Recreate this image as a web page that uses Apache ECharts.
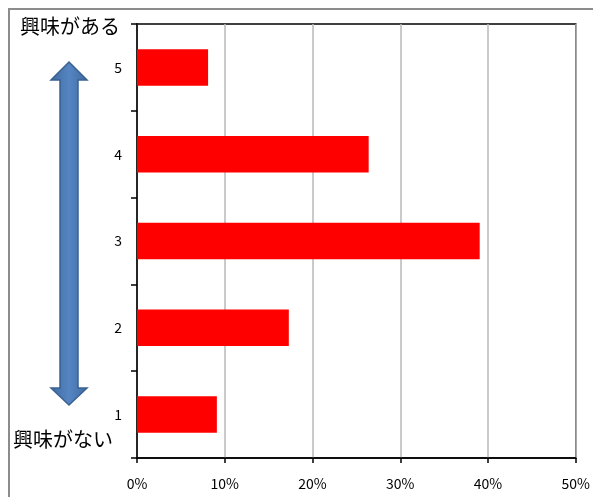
<!DOCTYPE html>
<html><head><meta charset="utf-8">
<script src="https://cdn.jsdelivr.net/npm/echarts@6/dist/echarts.min.js"></script>
<style>html,body{margin:0;padding:0;background:#fff}#c{width:593px;height:497px}</style>
</head><body><div id="c"></div>
<script>
const categories = ['1', '2', '3', '4', '5'];
const values = [0.091, 0.173, 0.3905, 0.264, 0.081];
const xTicks = [0, 0.1, 0.2, 0.3, 0.4, 0.5];
const topLabel = '興味がある';
const bottomLabel = '興味がない';

const chart = echarts.init(document.getElementById('c'), null, {renderer: 'canvas'});
const jp = '"Noto Sans CJK JP", sans-serif';
chart.setOption({
  animation: false,
  backgroundColor: '#fff',
  grid: {left: 137, right: 13, top: 24, bottom: 39, show: true, borderColor: '#000', borderWidth: 1.5, backgroundColor: 'transparent'},
  xAxis: {
    type: 'value', min: xTicks[0], max: xTicks[xTicks.length - 1], interval: 0.1,
    axisLine: {show: true, lineStyle: {color: '#000', width: 1.5}},
    axisTick: {show: true, length: 5, lineStyle: {color: '#000', width: 1.5}},
    splitLine: {show: true, lineStyle: {color: '#b8b8b8', width: 1.5}},
    axisLabel: {margin: 19, color: '#000', fontSize: 14, fontFamily: jp,
      formatter: v => Math.round(v * 100) + '%'}
  },
  yAxis: {
    type: 'category', data: categories,
    axisLine: {show: true, lineStyle: {color: '#000', width: 1.5}},
    axisTick: {show: true, length: 6, lineStyle: {color: '#000', width: 1.5}},
    splitLine: {show: false},
    axisLabel: {margin: 15, color: '#000', fontSize: 14, fontFamily: jp}
  },
  series: [{
    type: 'bar', data: values, barCategoryGap: '58%',
    itemStyle: {color: '#ff0000'}
  }],
  graphic: [
    {type: 'rect', z: 100, shape: {x: 9, y: 9, width: 700, height: 700},
      style: {fill: 'none', stroke: '#8c8c8c', lineWidth: 2}},
    {type: 'text', z: 100, left: 20, top: 16,
      style: {text: topLabel, font: '20px ' + jp, fill: '#000'}},
    {type: 'text', z: 100, left: 13, top: 429,
      style: {text: bottomLabel, font: '20px ' + jp, fill: '#000'}},
    {type: 'polygon', z: 100,
      shape: {points: [[69,62],[87,80],[78,80],[78,388],[87,388],[69,405],[51,388],[60,388],[60,80],[51,80]]},
      style: {fill: {type: 'linear', x: 0, y: 0, x2: 1, y2: 0, colorStops: [
        {offset: 0, color: '#3f6aa0'}, {offset: 0.5, color: '#5585c2'}, {offset: 1, color: '#3f6aa0'}]},
        stroke: '#3a6192', lineWidth: 1.5}}
  ]
});
</script></body></html>
